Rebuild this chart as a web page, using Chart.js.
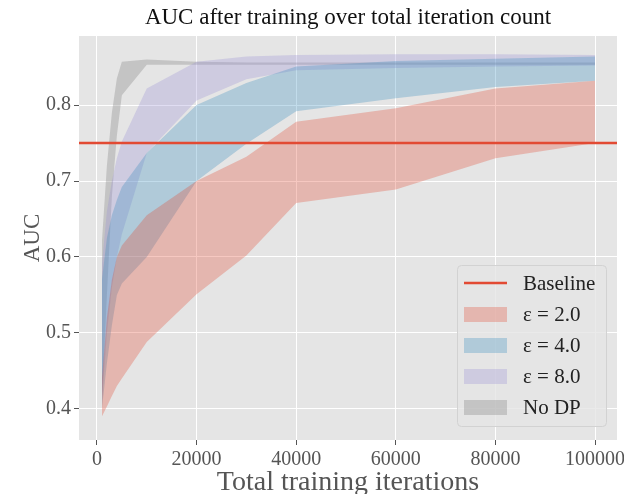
<!DOCTYPE html>
<html>
<head>
<meta charset="utf-8">
<script src="https://cdn.jsdelivr.net/npm/chart.js@4.4.0/dist/chart.umd.min.js"></script>
<style>
  html, body { margin: 0; padding: 0; background: #fff; }
  #wrap { width: 624px; height: 494px; }
</style>
</head>
<body>
<div id="wrap"><canvas id="chart" width="624" height="494"></canvas></div>
<script>
// total training iterations (x values)
const iterations = [1000, 2000, 3000, 4000, 5000, 10000, 20000, 30000, 40000, 60000, 80000, 100000];

// AUC bands (lower / upper) for each setting
const eps2Lower = [0.390, 0.403, 0.417, 0.430, 0.440, 0.488, 0.551, 0.602, 0.671, 0.689, 0.730, 0.750];
const eps2Upper = [0.440, 0.520, 0.570, 0.600, 0.615, 0.655, 0.700, 0.732, 0.778, 0.796, 0.822, 0.832];

const eps4Lower = [0.400, 0.460, 0.510, 0.550, 0.565, 0.600, 0.700, 0.749, 0.792, 0.809, 0.824, 0.832];
const eps4Upper = [0.570, 0.625, 0.655, 0.675, 0.692, 0.737, 0.800, 0.829, 0.851, 0.858, 0.861, 0.864];

const eps8Lower = [0.410, 0.500, 0.560, 0.600, 0.630, 0.737, 0.806, 0.834, 0.846, 0.849, 0.851, 0.852];
const eps8Upper = [0.590, 0.660, 0.700, 0.730, 0.752, 0.822, 0.857, 0.864, 0.866, 0.867, 0.867, 0.866];

const noDpLower = [0.410, 0.550, 0.680, 0.760, 0.813, 0.853, 0.853, 0.853, 0.853, 0.853, 0.853, 0.853];
const noDpUpper = [0.620, 0.720, 0.790, 0.835, 0.857, 0.860, 0.857, 0.856, 0.856, 0.856, 0.856, 0.856];

const baselineAuc = 0.75;

const xLimits = [-3600, 104400];
const yLimits = [0.359, 0.891];
const xTicks = [0, 20000, 40000, 60000, 80000, 100000];

const legendLabels = ['Baseline', 'ε = 2.0', 'ε = 4.0', 'ε = 8.0', 'No DP'];

const RED = '#E24A33', BLUE = '#348ABD', PURPLE = '#988ED5', GRAY = '#777777';
const alpha = (hex, a) => {
  const n = parseInt(hex.slice(1), 16);
  return `rgba(${(n >> 16) & 255}, ${(n >> 8) & 255}, ${n & 255}, ${a})`;
};

const SERIF = '"Liberation Serif", "DejaVu Serif", serif';

const toPoints = (ys) => iterations.map((x, i) => ({ x: x, y: ys[i] }));

const band = (lower, upper, color) => [
  {
    data: toPoints(upper),
    fill: '+1',
    backgroundColor: alpha(color, 0.3),
    borderWidth: 0,
    pointRadius: 0,
    tension: 0,
  },
  {
    data: toPoints(lower),
    fill: false,
    borderWidth: 0,
    pointRadius: 0,
    tension: 0,
  },
];

const datasets = [
  {
    data: [{ x: xLimits[0], y: baselineAuc }, { x: xLimits[1], y: baselineAuc }],
    borderColor: RED,
    borderWidth: 2.5,
    pointRadius: 0,
    fill: false,
    order: -1,
  },
  ...band(eps2Lower, eps2Upper, RED),
  ...band(eps4Lower, eps4Upper, BLUE),
  ...band(eps8Lower, eps8Upper, PURPLE),
  ...band(noDpLower, noDpUpper, GRAY),
];

// grey panel behind the plot, title centred over the panel
const panelBackground = {
  id: 'panelBackground',
  afterLayout(chart) {
    if (chart.titleBlock) {
      chart.titleBlock.left = chart.chartArea.left;
      chart.titleBlock.right = chart.chartArea.right;
    }
  },
  beforeDraw(chart) {
    const { ctx, chartArea: a } = chart;
    ctx.save();
    ctx.fillStyle = '#E5E5E5';
    ctx.fillRect(a.left, a.top, a.right - a.left, a.bottom - a.top);
    ctx.restore();
  },
};

// legend box in the lower right corner of the panel
const cornerLegend = {
  id: 'cornerLegend',
  afterDraw(chart) {
    const { ctx, chartArea: a } = chart;
    const w = 149, h = 161;
    const x0 = a.right - 11 - w, y0 = a.bottom - 14 - h;
    ctx.save();
    ctx.beginPath();
    ctx.roundRect(x0 + 0.5, y0 + 0.5, w, h, 4);
    ctx.fillStyle = 'rgba(229, 229, 229, 0.8)';
    ctx.fill();
    ctx.strokeStyle = '#D2D2D2';
    ctx.lineWidth = 1;
    ctx.stroke();

    const colors = [RED, RED, BLUE, PURPLE, GRAY];
    ctx.font = '21px ' + SERIF;
    ctx.textBaseline = 'middle';
    legendLabels.forEach((label, i) => {
      const cy = y0 + 18 + i * 31;
      if (i === 0) {
        ctx.strokeStyle = RED;
        ctx.lineWidth = 2.5;
        ctx.beginPath();
        ctx.moveTo(x0 + 7, cy);
        ctx.lineTo(x0 + 50, cy);
        ctx.stroke();
      } else {
        ctx.fillStyle = alpha(colors[i], 0.3);
        ctx.fillRect(x0 + 7, cy - 7, 43, 15);
      }
      ctx.fillStyle = '#222';
      ctx.fillText(label, x0 + 66, cy + 1);
    });
    ctx.restore();
  },
};

new Chart(document.getElementById('chart'), {
  type: 'line',
  data: { datasets },
  plugins: [panelBackground, cornerLegend],
  options: {
    responsive: false,
    animation: false,
    layout: { padding: { left: 0, right: 7, top: 0, bottom: 0 } },
    plugins: {
      legend: { display: false },
      tooltip: { enabled: false },
      title: {
        display: true,
        text: 'AUC after training over total iteration count',
        color: '#111',
        font: { family: SERIF, size: 23, weight: 'normal', lineHeight: 1.2 },
        padding: { top: 4.4, bottom: 4 },
      },
      filler: { drawTime: 'beforeDatasetsDraw' },
    },
    scales: {
      x: {
        type: 'linear',
        min: xLimits[0],
        max: xLimits[1],
        afterBuildTicks: (scale) => { scale.ticks = xTicks.map((v) => ({ value: v })); },
        afterFit: (scale) => {
          scale.height = 54;
          scale.paddingLeft = 0;
          scale.paddingRight = 0;
        },
        ticks: {
          color: '#555',
          font: { family: SERIF, size: 20 },
          padding: 3,
          maxRotation: 0,
          callback: (v) => String(v),
        },
        grid: { color: '#FFFFFF', lineWidth: 1, tickLength: 5, tickColor: '#555', tickWidth: 1 },
        border: { display: false },
        title: {
          display: true,
          text: 'Total training iterations',
          color: '#555',
          font: { family: SERIF, size: 28, lineHeight: 0.8 },
          padding: { top: 0, bottom: 0 },
        },
      },
      y: {
        min: yLimits[0],
        max: yLimits[1],
        afterFit: (scale) => {
          scale.width = 79;
          scale.paddingTop = 0;
          scale.paddingBottom = 0;
        },
        ticks: {
          stepSize: 0.1,
          includeBounds: false,
          color: '#555',
          font: { family: SERIF, size: 20 },
          padding: 3,
          callback: (v) => v.toFixed(1),
        },
        grid: { color: '#FFFFFF', lineWidth: 1, tickLength: 5, tickColor: '#555', tickWidth: 1 },
        border: { display: false },
        title: {
          display: true,
          text: 'AUC',
          color: '#555',
          font: { family: SERIF, size: 23, lineHeight: 1.2 },
          padding: { top: 19, bottom: 0 },
        },
      },
    },
  },
});
</script>
</body>
</html>
